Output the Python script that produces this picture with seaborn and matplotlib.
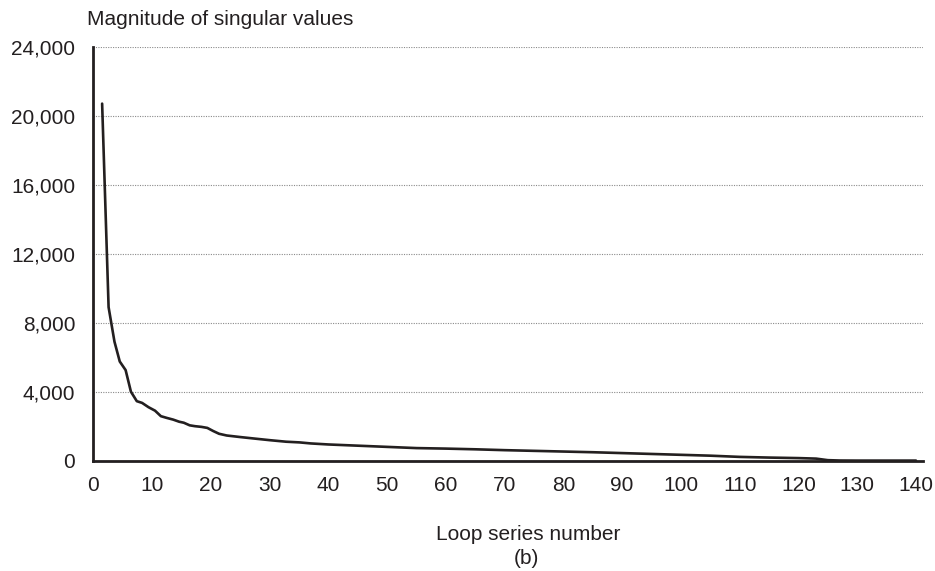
import numpy as np
import pandas as pd
import matplotlib
matplotlib.use("Agg")
import matplotlib.pyplot as plt
import seaborn as sns

# Data
loop_number = [1.5, 2.6, 3.6, 4.5, 5.5, 6.4, 7.4, 8.3, 9.4, 10.5, 11.5, 12.5, 13.6,
               14.6, 15.4, 16.4, 17.3, 18.4, 19.4, 20.4, 21.4, 22.7, 25, 27.2, 30,
               32.8, 35.1, 37, 40, 45, 50, 55, 60, 65, 70, 75, 80, 85, 90, 95, 100,
               105, 110, 115, 120, 123, 125, 127, 130, 135, 140]
singular_values = [20700, 8900, 6900, 5750, 5250, 4000, 3450, 3350, 3100, 2900, 2580,
                   2480, 2380, 2260, 2200, 2050, 2000, 1960, 1900, 1720, 1560, 1460,
                   1370, 1290, 1190, 1100, 1060, 1000, 940, 870, 800, 730, 700, 660,
                   610, 570, 530, 490, 440, 390, 340, 290, 220, 180, 150, 120, 30, 10,
                   5, 5, 5]
x_ticks = [0, 10, 20, 30, 40, 50, 60, 70, 80, 90, 100, 110, 120, 130, 140]
y_ticks = [0, 4000, 8000, 12000, 16000, 20000, 24000]
y_tick_labels = ["0", "4,000", "8,000", "12,000", "16,000", "20,000", "24,000"]

df = pd.DataFrame({"loop": loop_number, "value": singular_values})

sns.set_theme(style="white")
plt.rcParams["font.family"] = ["Liberation Sans", "DejaVu Sans"]
ink = "#231f20"
fs = 15

fig = plt.figure(figsize=(9.35, 5.71), dpi=100)
ax = fig.add_axes([0.0998, 0.1932, 0.8874, 0.725])

sns.lineplot(data=df, x="loop", y="value", ax=ax, color=ink, linewidth=1.9,
             estimator=None, sort=False)

ax.set_xlim(0, 141.2)
ax.set_ylim(0, 24000)
ax.set_xticks(x_ticks)
ax.set_xticklabels([str(t) for t in x_ticks])
ax.set_yticks(y_ticks)
ax.set_yticklabels(y_tick_labels)

ax.yaxis.grid(True, linestyle=(0, (1, 1.2)), color="#8a8a8a", linewidth=0.8)
ax.xaxis.grid(False)
ax.set_axisbelow(True)

for side in ["top", "right"]:
    ax.spines[side].set_visible(False)
for side in ["left", "bottom"]:
    ax.spines[side].set_visible(True)
    ax.spines[side].set_color(ink)
    ax.spines[side].set_linewidth(2.0)

ax.tick_params(axis="x", direction="in", length=8, width=1.1, color="#444444",
               labelsize=fs, labelcolor=ink, pad=11)
ax.tick_params(axis="y", length=0, labelsize=fs, labelcolor=ink, pad=13)
ax.set_xlabel("")
ax.set_ylabel("")

fig.text(0.093, 0.965, "Magnitude of singular values", ha="left", va="center",
         fontsize=fs, color=ink)
fig.text(0.5647, 1 - 535 / 571, "Loop series number", ha="center", va="center",
         fontsize=fs, color=ink)
fig.text(0.5635, 1 - 558 / 571, "(b)", ha="center", va="center",
         fontsize=fs, color=ink)

fig.savefig("out.png", dpi=100)
